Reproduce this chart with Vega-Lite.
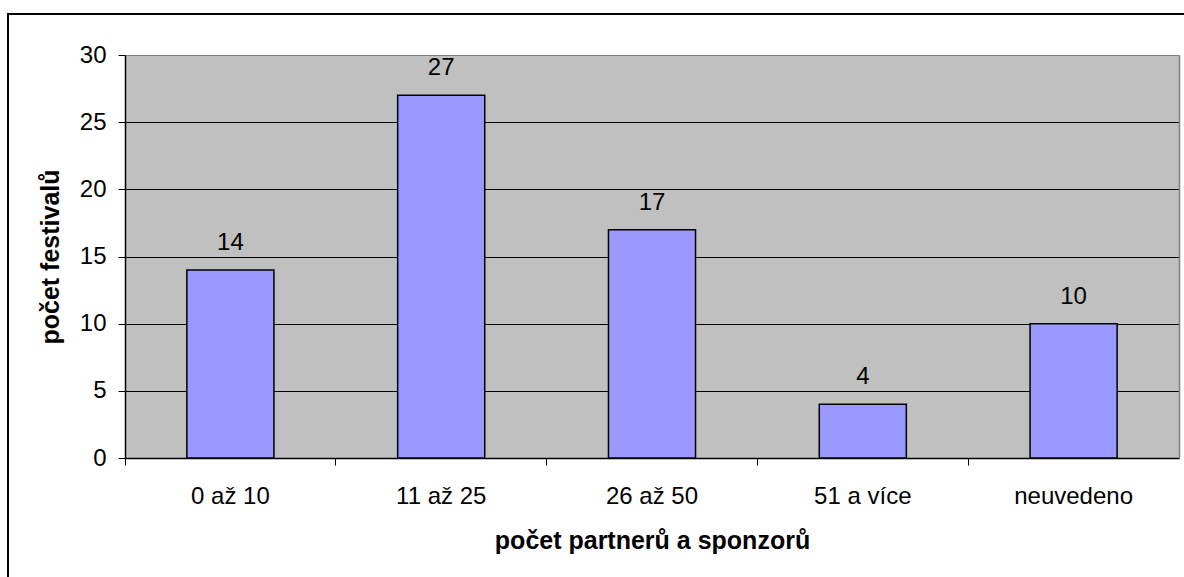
{
  "$schema": "https://vega.github.io/schema/vega-lite/v6.json",
  "width": 1178,
  "height": 565,
  "autosize": {"type": "none"},
  "padding": {"left": 8, "top": 14, "right": -2, "bottom": -2},
  "background": "white",
  "config": {"view": {"stroke": "black", "strokeWidth": 2}, "font": "Liberation Sans"},
  "data": {"values": [
    {"kategorie": "0 až 10", "pocet": 14},
    {"kategorie": "11 až 25", "pocet": 27},
    {"kategorie": "26 až 50", "pocet": 17},
    {"kategorie": "51 a více", "pocet": 4},
    {"kategorie": "neuvedeno", "pocet": 10}
  ]},
  "resolve": {"axis": {"x": "independent", "y": "independent"}},
  "layer": [
    {
      "mark": {"type": "bar", "fill": "#9999FF", "stroke": "black", "strokeWidth": 1.5, "width": {"band": 0.413}},
      "encoding": {
        "x": {
          "field": "kategorie", "type": "nominal", "sort": null,
          "scale": {"range": [117, 1171], "paddingInner": 0, "paddingOuter": 0},
          "axis": {
            "orient": "bottom", "offset": -121, "bandPosition": 0, "labelOffset": 0, "grid": false,
            "domainColor": "black", "domainWidth": 1.5, "tickColor": "black", "tickSize": 7, "tickWidth": 1,
            "labelFontSize": 24, "labelColor": "black", "labelPadding": 19, "labelAngle": 0,
            "title": "počet partnerů a sponzorů", "titleFontSize": 25, "titleFontWeight": "bold",
            "titleColor": "black", "titlePadding": 20
          }
        },
        "y": {
          "field": "pocet", "type": "quantitative",
          "scale": {"domain": [0, 30], "range": [444, 41], "nice": false, "zero": true},
          "axis": {
            "orient": "left", "offset": -117, "values": [0, 5, 10, 15, 20, 25, 30],
            "grid": true,
            "gridColor": {"condition": {"test": "datum.value === 30", "value": "#808080"}, "value": "black"},
            "gridWidth": 1,
            "domainColor": "black", "domainWidth": 1.5, "tickColor": "black", "tickSize": 7, "tickWidth": 1,
            "labelFontSize": 24, "labelColor": "black", "labelPadding": 12,
            "title": "počet festivalů", "titleFontSize": 25, "titleFontWeight": "bold",
            "titleColor": "black", "titlePadding": 16
          }
        }
      }
    },
    {
      "mark": {"type": "text", "fontSize": 24, "color": "black", "baseline": "alphabetic", "dy": -20},
      "encoding": {
        "x": {
          "field": "kategorie", "type": "nominal", "sort": null,
          "axis": {
            "orient": "top", "grid": true, "gridColor": "#C0C0C0", "gridWidth": 211, "bandPosition": 0.5,
            "domain": false, "ticks": false, "labels": false, "title": null
          }
        },
        "y": {
          "field": "pocet", "type": "quantitative",
          "axis": {
            "orient": "right", "offset": -7, "grid": false, "ticks": false, "labels": false,
            "domainColor": "#808080", "domainWidth": 1.5, "title": null
          }
        },
        "text": {"field": "pocet", "type": "quantitative"}
      }
    }
  ]
}
